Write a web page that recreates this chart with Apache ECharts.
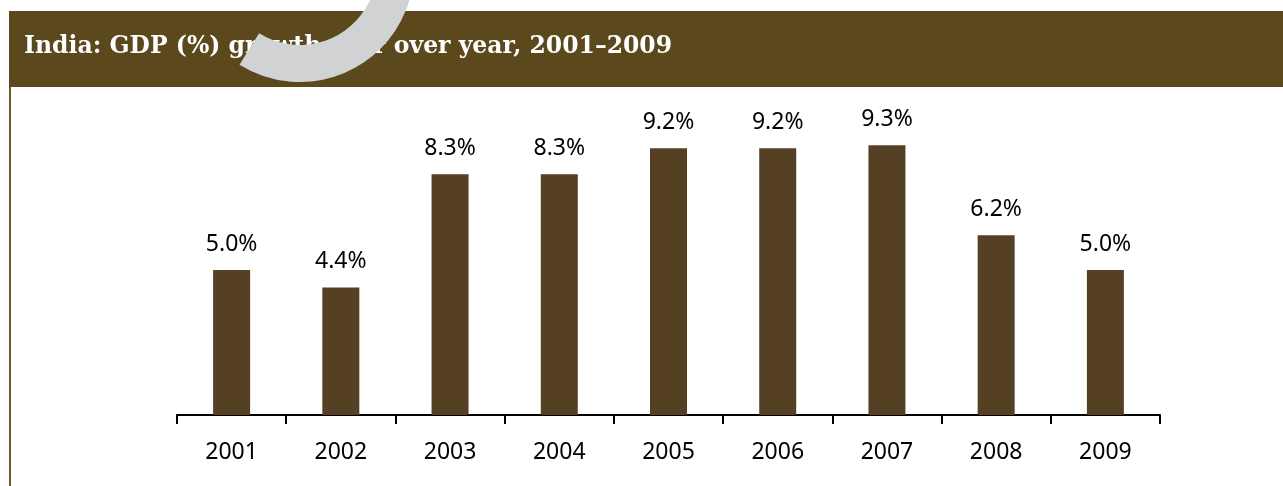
<!DOCTYPE html>
<html>
<head>
<meta charset="utf-8">
<script src="https://cdn.jsdelivr.net/npm/echarts@6/dist/echarts.min.js"></script>
<style>
html,body{margin:0;padding:0;background:#fff;}
#chart{width:1283px;height:486px;}
</style>
</head>
<body>
<div id="chart"></div>
<script>
const titleText = 'India: GDP (%) growth year over year, 2001\u20132009';
const years = ['2001','2002','2003','2004','2005','2006','2007','2008','2009'];
const gdpGrowth = [5.0, 4.4, 8.3, 8.3, 9.2, 9.2, 9.3, 6.2, 5.0];

const chart = echarts.init(document.getElementById('chart'), null, {renderer:'canvas'});
chart.setOption({
  backgroundColor: '#ffffff',
  animation: false,
  graphic: [
    { type:'rect', z:1, shape:{x:9, y:11, width:1274, height:76}, style:{fill:'#5b481d'} },
    { type:'rect', z:1, shape:{x:9, y:87, width:2, height:399}, style:{fill:'#6a5628'} },
    { type:'text', z:2, x:24, y:47, style:{text:titleText, fill:'#ffffff', font:'bold 23.5px "DejaVu Serif"', textVerticalAlign:'middle'} },
    { type:'sector', z:3, shape:{cx:300, cy:-32, r0:77, r:114, startAngle:-0.4, endAngle:2.13, clockwise:true}, style:{fill:'#d1d2d4'} }
  ],
  grid: { left:177, right:123, top:125, bottom:71 },
  xAxis: {
    type:'category',
    data: years,
    axisLine:{ show:true, lineStyle:{color:'#000', width:2} },
    axisTick:{ show:true, inside:false, length:9, lineStyle:{color:'#000', width:2} },
    axisLabel:{ color:'#000', fontFamily:'Noto Sans', fontSize:23, margin:26 }
  },
  yAxis: {
    type:'value', min:0, max:10,
    show:false,
    splitLine:{show:false}
  },
  series: [{
    type:'bar',
    data: gdpGrowth,
    barWidth:37,
    itemStyle:{ color:'#564024' },
    label:{
      show:true, position:'top', distance:14,
      color:'#000', fontFamily:'Noto Sans', fontSize:23,
      formatter: p => p.value.toFixed(1) + '%'
    }
  }]
});
</script>
</body>
</html>
